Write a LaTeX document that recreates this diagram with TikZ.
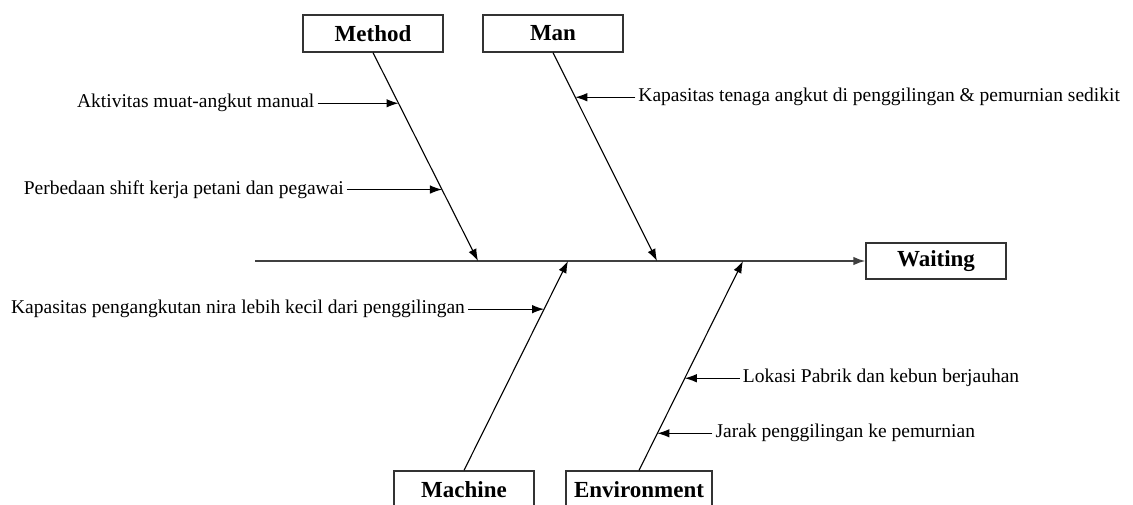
\documentclass[tikz,border=0pt]{standalone}
\usepackage{fontspec}
\setmainfont{Liberation Serif}
\usepackage{tikz}
\usetikzlibrary{positioning,calc,arrows.meta}

\tikzset{
  bone/.style={draw=black!80, line width=1.3pt, minimum width=140pt, minimum height=37pt,
    inner sep=0pt, font=\fontsize{23}{26}\selectfont\bfseries},
  cause/.style={font=\fontsize{19.5}{22}\selectfont, inner sep=3pt},
  tip/.style={-{Latex[length=12pt,width=8.5pt]}, line width=1.1pt},
}

\begin{document}
\begin{tikzpicture}[x=1pt,y=-1pt]
    \useasboundingbox (0,0) rectangle (1133,504);

    % categories and effect
    \node[bone] (method) at (373,33.5) {Method};
    \node[bone] (man) at (553,33.5) {Man};
    \node[bone] (machine) at (464,489.5) {Machine};
    \node[bone, minimum width=146pt] (env) at (639,489.5) {Environment};
    \node[bone, minimum height=36pt] (waiting) at (936,261) {Waiting};

    % spine
    \coordinate (tail) at (255,261);
    \draw[tip, line width=1.6pt, black!75] (tail) -- (waiting.west);

    % bones
    \coordinate (m1) at (478,261);
    \coordinate (m2) at (657,261);
    \coordinate (m3) at (568,261);
    \coordinate (m4) at (743,261);
    \draw[tip] (method.south) -- (m1);
    \draw[tip] (man.south) -- (m2);
    \draw[tip] (machine.north) -- (m3);
    \draw[tip] (env.north) -- (m4);

    % causes
    \coordinate (a1) at ($(method.south)!0.243!(m1)$);
    \coordinate (a2) at ($(method.south)!0.657!(m1)$);
    \coordinate (b1) at ($(man.south)!0.214!(m2)$);
    \coordinate (c1) at ($(machine.north)!0.77!(m3)$);
    \coordinate (d1) at ($(env.north)!0.44!(m4)$);
    \coordinate (d2) at ($(env.north)!0.177!(m4)$);

    \node[cause, left=81pt of a1] (aktivitas) {Aktivitas muat-angkut manual};
    \node[cause, left=95pt of a2] (shift) {Perbedaan shift kerja petani dan pegawai};
    \node[cause, right=60pt of b1] (tenaga) {Kapasitas tenaga angkut di penggilingan \& pemurnian sedikit};
    \node[cause, left=76pt of c1] (nira) {Kapasitas pengangkutan nira lebih kecil dari penggilingan};
    \node[cause, right=55pt of d1] (lokasi) {Lokasi Pabrik dan kebun berjauhan};
    \node[cause, right=55pt of d2] (jarak) {Jarak penggilingan ke pemurnian};

    \draw[tip] (aktivitas.east) -- (a1);
    \draw[tip] (shift.east) -- (a2);
    \draw[tip] (tenaga.west) -- (b1);
    \draw[tip] (nira.east) -- (c1);
    \draw[tip] (lokasi.west) -- (d1);
    \draw[tip] (jarak.west) -- (d2);
\end{tikzpicture}
\end{document}
